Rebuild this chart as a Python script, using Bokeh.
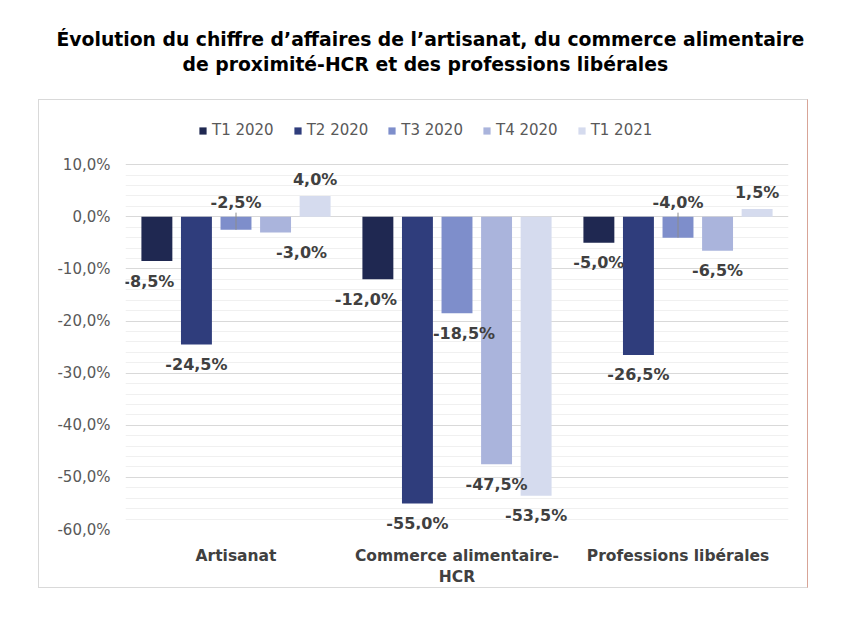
from bokeh.plotting import figure
from bokeh.layouts import column
from bokeh.models import (ColumnDataSource, FactorRange, Range1d, FixedTicker,
                          Legend, LegendItem, Title, CustomJSTickFormatter)
from bokeh.core.properties import value
from bokeh.transform import dodge
from bokeh.embed import file_html
from bokeh.resources import INLINE

# ---------------- data ----------------
categories = ["Artisanat", "Commerce alimentaire-\nHCR", "Professions libérales"]
series_names = ["T1 2020", "T2 2020", "T3 2020", "T4 2020", "T1 2021"]
t1_2020 = [-8.5, -12.0, -5.0]
t2_2020 = [-24.5, -55.0, -26.5]
t3_2020 = [-2.5, -18.5, -4.0]
t4_2020 = [-3.0, -47.5, -6.5]
t1_2021 = [4.0, -53.5, 1.5]
y_ticks = [-60, -50, -40, -30, -20, -10, 0, 10]
title_line1 = "Évolution du chiffre d’affaires de l’artisanat, du commerce alimentaire"
title_line2 = "de proximité-HCR et des professions libérales"

series_values = [t1_2020, t2_2020, t3_2020, t4_2020, t1_2021]

# ---------------- style ----------------
colors = ["#1f2851", "#2f3d7c", "#7e8ecb", "#aab4dc", "#d5dbee"]
offsets = [-0.358, -0.179, 0.0, 0.179, 0.358]
bar_width = 0.14
label_dx = [[-8, -12, 0], [0, 0, 0], [0, 7, 0], [26, 0, 0], [0, 0, 0]]
label_above_axis = [[False, False, False], [False, False, False], [True, False, True],
                    [False, False, False], [False, False, False]]
FONT = "DejaVu Sans"
CW, CH = 770, 489
BORDERS = dict(min_border_left=86, min_border_right=21)

# ---------------- title block ----------------
tf = figure(width=CW, height=99, x_range=Range1d(0, 1), y_range=Range1d(0, 1),
            min_border_top=73, min_border_bottom=0, **BORDERS,
            x_axis_location=None, y_axis_location=None, title=None,
            toolbar_location=None, output_backend="svg", margin=(0, 0, 0, 38),
            styles={"border": "1px solid transparent", "border-bottom": "0px"})
tf.outline_line_color = None
tf.grid.visible = False
tf.line(x=[0, 1], y=[0, 0], line_alpha=0)
tt2 = Title(text=title_line2, align="left", offset=57, standoff=0, text_font=FONT,
            text_font_style="bold", text_font_size="18.8px", text_color="#000000")
tt1 = Title(text=title_line1, align="left", offset=-69, standoff=4, text_font=FONT,
            text_font_style="bold", text_font_size="18.8px", text_color="#000000")
tf.add_layout(tt2, "above")
tf.add_layout(tt1, "above")

# ---------------- chart ----------------
p = figure(x_range=FactorRange(factors=categories, range_padding=0),
           y_range=Range1d(-60, 20.4), width=CW, height=CH,
           output_backend="svg", toolbar_location=None, title=None,
           min_border_top=10, min_border_bottom=55, **BORDERS,
           margin=(0, 0, 0, 38),
           styles={"border": "1px solid #d9d9d9", "border-right": "1px solid #d8a497"})
p.outline_line_color = None
p.background_fill_color = "white"
p.border_fill_color = "white"

legend_items = []
label_jobs = []
for name, vals, col, off, dxs, above in zip(series_names, series_values, colors, offsets,
                                            label_dx, label_above_axis):
    labels = [f"{v:.1f}%".replace(".", ",") for v in vals]
    ly = [0 if a else v for v, a in zip(vals, above)]
    lyo = [-14 if a else (-16 if v >= 0 else 20) for v, a in zip(vals, above)]
    src = ColumnDataSource(dict(cat=categories, val=vals, lab=labels, ly=ly, lyo=lyo, lxo=dxs))
    xs = dodge("cat", off, range=p.x_range)
    r = p.vbar(x=xs, top="val", bottom=0, width=bar_width, source=src,
               fill_color=col, line_color=None)
    legend_items.append(LegendItem(label=name, renderers=[r]))
    label_jobs.append((xs, src, vals, above))

# labels drawn after all bars so they sit on top
for xs, src, vals, above in label_jobs:
    lead = ColumnDataSource(dict(cat=[c for c, a in zip(categories, above) if a],
                                 y1=[v for v, a in zip(vals, above) if a]))
    if len(lead.data["cat"]):
        p.segment(x0=xs, x1=xs, y0=0.8, y1="y1", source=lead,
                  line_color="#8c8c8c", line_width=1)
    p.text(x=xs, y="ly", text="lab", x_offset="lxo", y_offset="lyo", source=src,
           text_align="center", text_baseline="middle", text_font=value(FONT),
           text_font_style="bold", text_font_size="16px", text_color="#404040")

ticker = FixedTicker(ticks=y_ticks,
                     minor_ticks=[t for t in range(y_ticks[0], y_ticks[-1] + 1, 2) if t % 10])
p.yaxis.ticker = ticker
p.ygrid.ticker = ticker
p.yaxis.formatter = CustomJSTickFormatter(code="return tick.toFixed(1).replace('.', ',') + '%';")
p.ygrid.grid_line_color = "#d9d9d9"
p.ygrid.minor_grid_line_color = "#f0f0f0"
p.xgrid.visible = False

p.yaxis.axis_line_color = None
p.yaxis.major_tick_line_color = None
p.yaxis.minor_tick_line_color = None
p.yaxis.major_tick_out = 0
p.yaxis.minor_tick_out = 0
p.yaxis.major_label_standoff = 15
p.yaxis.major_label_text_font = FONT
p.yaxis.major_label_text_font_size = "15px"
p.yaxis.major_label_text_color = "#595959"

p.xaxis.axis_line_color = None
p.xaxis.major_tick_line_color = None
p.xaxis.major_tick_out = 0
p.xaxis.major_label_standoff = 17
p.xaxis.major_label_text_font = FONT
p.xaxis.major_label_text_font_style = "bold"
p.xaxis.major_label_text_font_size = "15.5px"
p.xaxis.major_label_text_color = "#404040"

legend = Legend(items=legend_items, orientation="horizontal", location=(73, 389),
                margin=0, padding=0, spacing=19, glyph_width=9, glyph_height=9,
                label_standoff=5, label_height=20,
                label_text_font=FONT, label_text_font_size="15px", label_text_color="#595959",
                border_line_color=None, background_fill_alpha=0)
p.add_layout(legend)

layout = column(tf, p, spacing=0)
open("out.html", "w").write(file_html(layout, INLINE))
